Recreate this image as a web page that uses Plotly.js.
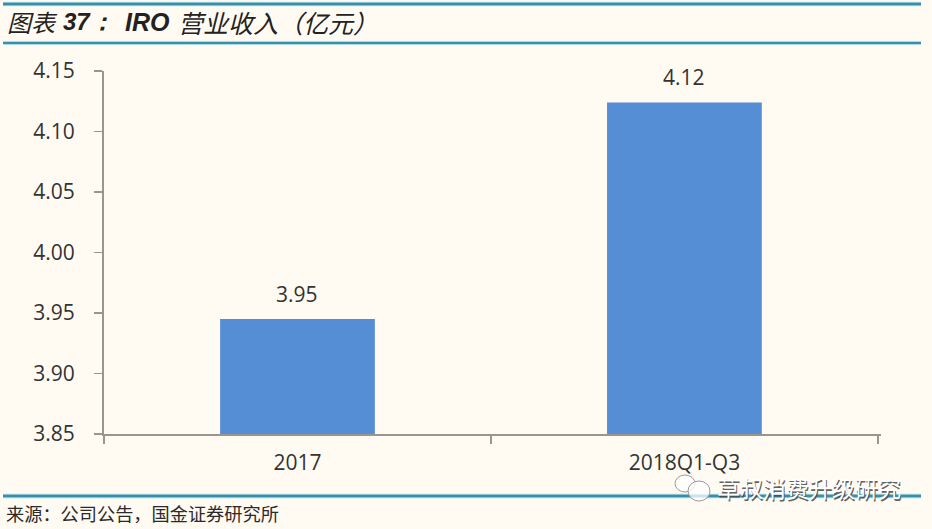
<!DOCTYPE html>
<html><head><meta charset="utf-8">
<script src="https://cdn.plot.ly/plotly-3.0.1.min.js"></script>
<style>html,body{margin:0;padding:0;background:#fffbf2}</style></head>
<body><div id="chart" style="width:932px;height:529px"></div>
<script>
const categories = ["2017", "2018Q1-Q3"];
const revenue = [3.945, 4.124];
const valueLabels = ["3.95", "4.12"];
const tickVals = [3.85, 3.90, 3.95, 4.00, 4.05, 4.10, 4.15];
const tickLabels = ["3.85", "3.90", "3.95", "4.00", "4.05", "4.10", "4.15"];

const W = 932, H = 529;
const px = x => x / W, py = y => 1 - y / H;
const cjk = '"Noto Sans CJK SC","Noto Sans",sans-serif';
const sans = '"Open Sans","Noto Sans",sans-serif';
const axisFont = {family:sans, size:21, color:'#333'};

function note(x, y, text, font) {
  return {xref:'paper', yref:'paper', x:px(x), y:py(y), text:text, showarrow:false,
    xanchor:'left', yanchor:'middle', font:font};
}
function rule(y, x0, x1, w, color) {
  return {type:'line', xref:'paper', yref:'paper', x0:px(x0), x1:px(x1), y0:py(y), y1:py(y),
    line:{color:color, width:w}};
}
function bubble(x0, y0, x1, y1) {
  return {type:'circle', xref:'paper', yref:'paper', x0:px(x0), x1:px(x1), y0:py(y0), y1:py(y1),
    fillcolor:'rgba(255,255,255,0.75)', line:{color:'#9a9a9a', width:1}};
}

const titleFont = {family:cjk, size:24, color:'#222', style:'italic'};
const title2Font = {family:cjk, size:25, color:'#222', style:'italic'};
const numFont = {family:'"Liberation Sans",sans-serif', size:24, color:'#222', style:'italic', weight:700};
const iroFont = {family:'"Liberation Sans",sans-serif', size:25, color:'#222', style:'italic', weight:700};
const wm = '草叔消费升级研究';

const annotations = [
  note(5, 22, '图表', titleFont),
  note(61, 22, '37：', numFont),
  note(123, 22, 'IRO', iroFont),
  note(176, 22, '营业收入（亿元）', title2Font),
  note(4, 513, '来源：公司公告，国金证券研究所', {family:cjk, size:18.2, color:'#2a2a2a'}),
  note(716, 488.5, wm, {family:cjk, size:23, color:'rgba(70,70,70,0.85)'}),
  note(714.5, 487, wm, {family:cjk, size:23, color:'#ffffff'})
];
categories.forEach((c, i) => annotations.push({
  xref:'x', yref:'y', x:i, y:revenue[i], text:valueLabels[i], showarrow:false,
  xanchor:'center', yanchor:'bottom', yshift:9,
  font:axisFont
}));

const shapes = [
  rule(4, 3, 921, 5, '#d8f6fb'),
  rule(4, 3, 921, 3, '#3a8ea8'),
  rule(43, 3, 921, 4.5, '#d8f6fb'),
  rule(43, 3, 921, 2.5, '#3a8ea8'),
  rule(496, 3, 921, 5.5, '#d8f6fb'),
  rule(496, 3, 921, 3, '#3a8ea8'),
  bubble(675, 475, 695, 492),
  bubble(688, 481, 710, 501)
];

Plotly.newPlot('chart', [{
  type:'bar', x:categories, y:revenue, width:0.4,
  marker:{color:'#558ed5'}, cliponaxis:false
}], {
  width:W, height:H, showlegend:false, autosize:false,
  paper_bgcolor:'#fffbf2', plot_bgcolor:'#fffbf2',
  margin:{l:0, r:0, t:0, b:0},
  xaxis:{domain:[px(104), px(881)], type:'category', automargin:false,
    range:[-0.5, 1.508],
    showline:true, linecolor:'#9a958d', linewidth:2,
    ticks:'outside', ticklen:8, tickcolor:'#9a958d', tickwidth:2, tickson:'boundaries',
    ticklabelstandoff:9,
    showgrid:false, zeroline:false, tickfont:axisFont},
  yaxis:{domain:[py(434), py(71)], range:[3.85, 4.15], automargin:false,
    tickmode:'array', tickvals:tickVals, ticktext:tickLabels,
    showline:true, linecolor:'#9a958d', linewidth:2,
    ticks:'outside', ticklen:8, tickcolor:'#9a958d', tickwidth:1.5,
    ticklabelstandoff:15,
    showgrid:false, zeroline:false, tickfont:axisFont},
  annotations:annotations, shapes:shapes
}, {displayModeBar:false, staticPlot:true});
</script></body></html>
